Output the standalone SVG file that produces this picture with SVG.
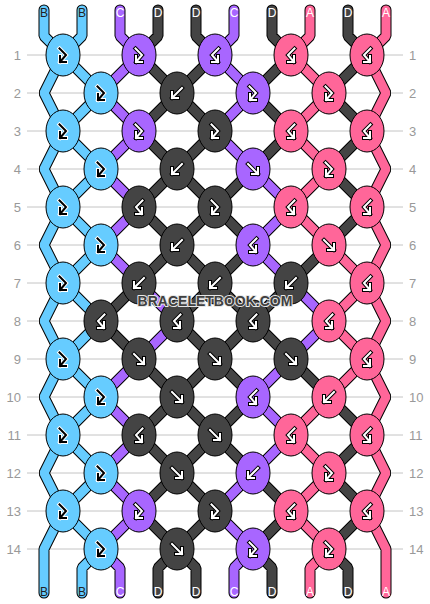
<svg xmlns="http://www.w3.org/2000/svg" width="430" height="604" viewBox="0 0 430 604">
<style>
.grid line{stroke:#c4c4c4;stroke-width:1}
.num{font-family:"Liberation Sans",Arial,sans-serif;font-size:13px;fill:#999}
.numL{text-anchor:end}
.t{fill:none;stroke-linecap:round;stroke-linejoin:bevel}
.ol{stroke:#000;stroke-width:11}
.cB{stroke:#66ccff;stroke-width:9}
.cC{stroke:#a866ff;stroke-width:9}
.cD{stroke:#444444;stroke-width:9}
.cA{stroke:#ff6699;stroke-width:9}
.k ellipse{stroke:#000;stroke-width:1}
.kB{fill:#66ccff}
.kC{fill:#a866ff}
.kD{fill:#444444}
.kA{fill:#ff6699}
use.sw{color:#fff;stroke:#000}
use.sk{color:#000;stroke:#fff}
.lab{font-family:"Liberation Sans",Arial,sans-serif;font-size:12px;text-anchor:middle;fill:#fff}
.lab .dk{fill:#222}
.wm{font-family:"Liberation Sans",Arial,sans-serif;font-weight:bold;font-size:14px;text-anchor:middle;fill:#404040;stroke:#e6e6e6;stroke-width:2;paint-order:stroke;stroke-linejoin:round}
</style>
<defs>
<g id="fb" fill="none" stroke-linecap="square" stroke-linejoin="miter"><path d="M-3.5-6.5L3 0L-3 7M-3 1V7H3" stroke="currentColor" stroke-width="4"/><path d="M-3.5-6.5L3 0L-3 7M-3 1V7H3" stroke-width="2"/></g>
<g id="bf" fill="none" stroke-linecap="square" stroke-linejoin="miter"><path d="M3.5-6.5L-3 0L3 7M3 1V7H-3" stroke="currentColor" stroke-width="4"/><path d="M3.5-6.5L-3 0L3 7M3 1V7H-3" stroke-width="2"/></g>
<g id="f" fill="none" stroke-linecap="square" stroke-linejoin="miter"><path d="M-5-5L5 5M5-1V5H-1" stroke="currentColor" stroke-width="4"/><path d="M-5-5L5 5M5-1V5H-1" stroke-width="2"/></g>
<g id="b" fill="none" stroke-linecap="square" stroke-linejoin="miter"><path d="M5-5L-5 5M-5-1V5H1" stroke="currentColor" stroke-width="4"/><path d="M5-5L-5 5M-5-1V5H1" stroke-width="2"/></g>
<path id="tB" d="M63 55l38 38M101 93l-38 38M63 131l38 38M101 169l-38 38M63 207l38 38M101 245l-38 38M63 283l38 38M101 321l-38 38M63 359l38 38M101 397l-38 38M63 435l38 38M101 473l-38 38M63 511l38 38M82 10V36L63 55M101 549L82 568V593M44 10V36L63 55L44 93L63 131L44 169L63 207L44 245L63 283L44 321L63 359L44 397L63 435L44 473L63 511L44 549V593"/>
<path id="tC" d="M139 55l-38 38M215 55l38 38M101 93l38 38M253 93l-38 38M139 131l-38 38M215 131l38 38M101 169l38 38M253 169l38 38M139 207l-38 38M291 207l-38 38M101 245l38 38M253 245l38 38M139 283l38 38M291 283l38 38M177 321l-38 38M329 321l-38 38M139 359l-38 38M291 359l-38 38M101 397l38 38M253 397l38 38M139 435l-38 38M291 435l-38 38M101 473l38 38M253 473l-38 38M139 511l-38 38M215 511l38 38M120 10V36L139 55M234 10V36L215 55M101 549L120 568V593M253 549L234 568V593"/>
<path id="tA" d="M291 55l38 38M329 93l-38 38M291 131l38 38M329 169l-38 38M291 207l38 38M329 245l38 38M367 283l-38 38M329 321l38 38M367 359l-38 38M329 397l-38 38M291 435l38 38M329 473l-38 38M291 511l38 38M310 10V36L291 55M329 549L310 568V593M386 10V36L367 55L386 93L367 131L386 169L367 207L386 245L367 283L386 321L367 359L386 397L367 435L386 473L367 511L386 549V593"/>
<path id="tD" d="M139 55l38 38M215 55l-38 38M291 55l-38 38M367 55l-38 38M177 93l-38 38M177 93l38 38M253 93l38 38M329 93l38 38M139 131l38 38M215 131l-38 38M291 131l-38 38M367 131l-38 38M177 169l-38 38M177 169l38 38M253 169l-38 38M329 169l38 38M139 207l38 38M215 207l-38 38M215 207l38 38M367 207l-38 38M177 245l-38 38M177 245l38 38M253 245l-38 38M329 245l-38 38M139 283l-38 38M215 283l-38 38M215 283l38 38M291 283l-38 38M101 321l38 38M177 321l38 38M253 321l-38 38M253 321l38 38M139 359l38 38M215 359l-38 38M215 359l38 38M291 359l38 38M177 397l-38 38M177 397l38 38M253 397l-38 38M329 397l38 38M139 435l38 38M215 435l-38 38M215 435l38 38M367 435l-38 38M177 473l-38 38M177 473l38 38M253 473l38 38M329 473l38 38M139 511l38 38M215 511l-38 38M291 511l-38 38M367 511l-38 38M158 10V36L139 55M196 10V36L215 55M272 10V36L291 55M348 10V36L367 55M177 549L158 568V593M177 549L196 568V593M253 549L272 568V593M329 549L348 568V593"/>
</defs>
<rect width="430" height="604" fill="#fff"/>
<g class="grid">
<line x1="27" y1="55" x2="403" y2="55"/><line x1="27" y1="93" x2="403" y2="93"/><line x1="27" y1="131" x2="403" y2="131"/><line x1="27" y1="169" x2="403" y2="169"/><line x1="27" y1="207" x2="403" y2="207"/><line x1="27" y1="245" x2="403" y2="245"/><line x1="27" y1="283" x2="403" y2="283"/><line x1="27" y1="321" x2="403" y2="321"/><line x1="27" y1="359" x2="403" y2="359"/><line x1="27" y1="397" x2="403" y2="397"/><line x1="27" y1="435" x2="403" y2="435"/><line x1="27" y1="473" x2="403" y2="473"/><line x1="27" y1="511" x2="403" y2="511"/><line x1="27" y1="549" x2="403" y2="549"/>
</g>
<g class="num">
<text class="numL" x="21" y="59.5">1</text><text class="numL" x="21" y="97.5">2</text><text class="numL" x="21" y="135.5">3</text><text class="numL" x="21" y="173.5">4</text><text class="numL" x="21" y="211.5">5</text><text class="numL" x="21" y="249.5">6</text><text class="numL" x="21" y="287.5">7</text><text class="numL" x="21" y="325.5">8</text><text class="numL" x="21" y="363.5">9</text><text class="numL" x="21" y="401.5">10</text><text class="numL" x="21" y="439.5">11</text><text class="numL" x="21" y="477.5">12</text><text class="numL" x="21" y="515.5">13</text><text class="numL" x="21" y="553.5">14</text>
<text x="409" y="59.5">1</text><text x="409" y="97.5">2</text><text x="409" y="135.5">3</text><text x="409" y="173.5">4</text><text x="409" y="211.5">5</text><text x="409" y="249.5">6</text><text x="409" y="287.5">7</text><text x="409" y="325.5">8</text><text x="409" y="363.5">9</text><text x="409" y="401.5">10</text><text x="409" y="439.5">11</text><text x="409" y="477.5">12</text><text x="409" y="515.5">13</text><text x="409" y="553.5">14</text>
</g>
<g id="connectors" class="t">
<use href="#tB" class="ol"/><use href="#tC" class="ol"/><use href="#tA" class="ol"/><use href="#tD" class="ol"/>
<use href="#tB" class="cB"/><use href="#tC" class="cC"/><use href="#tA" class="cA"/><use href="#tD" class="cD"/>
</g>
<g id="knots">
<g id="r1k1" class="k"><ellipse class="kB" cx="63" cy="55" rx="17" ry="21"/><use href="#fb" class="sw" x="63" y="55"/></g>
<g id="r1k2" class="k"><ellipse class="kC" cx="139" cy="55" rx="17" ry="21"/><use href="#fb" class="sk" x="139" y="55"/></g>
<g id="r1k3" class="k"><ellipse class="kC" cx="215" cy="55" rx="17" ry="21"/><use href="#bf" class="sk" x="215" y="55"/></g>
<g id="r1k4" class="k"><ellipse class="kA" cx="291" cy="55" rx="17" ry="21"/><use href="#bf" class="sk" x="291" y="55"/></g>
<g id="r1k5" class="k"><ellipse class="kA" cx="367" cy="55" rx="17" ry="21"/><use href="#bf" class="sk" x="367" y="55"/></g>
<g id="r2k1" class="k"><ellipse class="kB" cx="101" cy="93" rx="17" ry="21"/><use href="#fb" class="sw" x="101" y="93"/></g>
<g id="r2k2" class="k"><ellipse class="kD" cx="177" cy="93" rx="17" ry="21"/><use href="#b" class="sk" x="177" y="93"/></g>
<g id="r2k3" class="k"><ellipse class="kC" cx="253" cy="93" rx="17" ry="21"/><use href="#fb" class="sk" x="253" y="93"/></g>
<g id="r2k4" class="k"><ellipse class="kA" cx="329" cy="93" rx="17" ry="21"/><use href="#fb" class="sk" x="329" y="93"/></g>
<g id="r3k1" class="k"><ellipse class="kB" cx="63" cy="131" rx="17" ry="21"/><use href="#fb" class="sw" x="63" y="131"/></g>
<g id="r3k2" class="k"><ellipse class="kC" cx="139" cy="131" rx="17" ry="21"/><use href="#fb" class="sk" x="139" y="131"/></g>
<g id="r3k3" class="k"><ellipse class="kD" cx="215" cy="131" rx="17" ry="21"/><use href="#fb" class="sk" x="215" y="131"/></g>
<g id="r3k4" class="k"><ellipse class="kA" cx="291" cy="131" rx="17" ry="21"/><use href="#bf" class="sk" x="291" y="131"/></g>
<g id="r3k5" class="k"><ellipse class="kA" cx="367" cy="131" rx="17" ry="21"/><use href="#bf" class="sk" x="367" y="131"/></g>
<g id="r4k1" class="k"><ellipse class="kB" cx="101" cy="169" rx="17" ry="21"/><use href="#fb" class="sw" x="101" y="169"/></g>
<g id="r4k2" class="k"><ellipse class="kD" cx="177" cy="169" rx="17" ry="21"/><use href="#b" class="sk" x="177" y="169"/></g>
<g id="r4k3" class="k"><ellipse class="kC" cx="253" cy="169" rx="17" ry="21"/><use href="#f" class="sk" x="253" y="169"/></g>
<g id="r4k4" class="k"><ellipse class="kA" cx="329" cy="169" rx="17" ry="21"/><use href="#fb" class="sk" x="329" y="169"/></g>
<g id="r5k1" class="k"><ellipse class="kB" cx="63" cy="207" rx="17" ry="21"/><use href="#fb" class="sw" x="63" y="207"/></g>
<g id="r5k2" class="k"><ellipse class="kD" cx="139" cy="207" rx="17" ry="21"/><use href="#bf" class="sk" x="139" y="207"/></g>
<g id="r5k3" class="k"><ellipse class="kD" cx="215" cy="207" rx="17" ry="21"/><use href="#fb" class="sk" x="215" y="207"/></g>
<g id="r5k4" class="k"><ellipse class="kA" cx="291" cy="207" rx="17" ry="21"/><use href="#bf" class="sk" x="291" y="207"/></g>
<g id="r5k5" class="k"><ellipse class="kA" cx="367" cy="207" rx="17" ry="21"/><use href="#bf" class="sk" x="367" y="207"/></g>
<g id="r6k1" class="k"><ellipse class="kB" cx="101" cy="245" rx="17" ry="21"/><use href="#fb" class="sw" x="101" y="245"/></g>
<g id="r6k2" class="k"><ellipse class="kD" cx="177" cy="245" rx="17" ry="21"/><use href="#b" class="sk" x="177" y="245"/></g>
<g id="r6k3" class="k"><ellipse class="kC" cx="253" cy="245" rx="17" ry="21"/><use href="#bf" class="sk" x="253" y="245"/></g>
<g id="r6k4" class="k"><ellipse class="kA" cx="329" cy="245" rx="17" ry="21"/><use href="#f" class="sk" x="329" y="245"/></g>
<g id="r7k1" class="k"><ellipse class="kB" cx="63" cy="283" rx="17" ry="21"/><use href="#fb" class="sw" x="63" y="283"/></g>
<g id="r7k2" class="k"><ellipse class="kD" cx="139" cy="283" rx="17" ry="21"/><use href="#b" class="sk" x="139" y="283"/></g>
<g id="r7k3" class="k"><ellipse class="kD" cx="215" cy="283" rx="17" ry="21"/><use href="#b" class="sk" x="215" y="283"/></g>
<g id="r7k4" class="k"><ellipse class="kD" cx="291" cy="283" rx="17" ry="21"/><use href="#b" class="sk" x="291" y="283"/></g>
<g id="r7k5" class="k"><ellipse class="kA" cx="367" cy="283" rx="17" ry="21"/><use href="#bf" class="sk" x="367" y="283"/></g>
<g id="r8k1" class="k"><ellipse class="kD" cx="101" cy="321" rx="17" ry="21"/><use href="#bf" class="sk" x="101" y="321"/></g>
<g id="r8k2" class="k"><ellipse class="kD" cx="177" cy="321" rx="17" ry="21"/><use href="#bf" class="sk" x="177" y="321"/></g>
<g id="r8k3" class="k"><ellipse class="kD" cx="253" cy="321" rx="17" ry="21"/><use href="#bf" class="sk" x="253" y="321"/></g>
<g id="r8k4" class="k"><ellipse class="kA" cx="329" cy="321" rx="17" ry="21"/><use href="#bf" class="sk" x="329" y="321"/></g>
<g id="r9k1" class="k"><ellipse class="kB" cx="63" cy="359" rx="17" ry="21"/><use href="#fb" class="sw" x="63" y="359"/></g>
<g id="r9k2" class="k"><ellipse class="kD" cx="139" cy="359" rx="17" ry="21"/><use href="#f" class="sk" x="139" y="359"/></g>
<g id="r9k3" class="k"><ellipse class="kD" cx="215" cy="359" rx="17" ry="21"/><use href="#f" class="sk" x="215" y="359"/></g>
<g id="r9k4" class="k"><ellipse class="kD" cx="291" cy="359" rx="17" ry="21"/><use href="#f" class="sk" x="291" y="359"/></g>
<g id="r9k5" class="k"><ellipse class="kA" cx="367" cy="359" rx="17" ry="21"/><use href="#bf" class="sk" x="367" y="359"/></g>
<g id="r10k1" class="k"><ellipse class="kB" cx="101" cy="397" rx="17" ry="21"/><use href="#fb" class="sw" x="101" y="397"/></g>
<g id="r10k2" class="k"><ellipse class="kD" cx="177" cy="397" rx="17" ry="21"/><use href="#f" class="sk" x="177" y="397"/></g>
<g id="r10k3" class="k"><ellipse class="kC" cx="253" cy="397" rx="17" ry="21"/><use href="#bf" class="sk" x="253" y="397"/></g>
<g id="r10k4" class="k"><ellipse class="kA" cx="329" cy="397" rx="17" ry="21"/><use href="#b" class="sk" x="329" y="397"/></g>
<g id="r11k1" class="k"><ellipse class="kB" cx="63" cy="435" rx="17" ry="21"/><use href="#fb" class="sw" x="63" y="435"/></g>
<g id="r11k2" class="k"><ellipse class="kD" cx="139" cy="435" rx="17" ry="21"/><use href="#bf" class="sk" x="139" y="435"/></g>
<g id="r11k3" class="k"><ellipse class="kD" cx="215" cy="435" rx="17" ry="21"/><use href="#f" class="sk" x="215" y="435"/></g>
<g id="r11k4" class="k"><ellipse class="kA" cx="291" cy="435" rx="17" ry="21"/><use href="#bf" class="sk" x="291" y="435"/></g>
<g id="r11k5" class="k"><ellipse class="kA" cx="367" cy="435" rx="17" ry="21"/><use href="#bf" class="sk" x="367" y="435"/></g>
<g id="r12k1" class="k"><ellipse class="kB" cx="101" cy="473" rx="17" ry="21"/><use href="#fb" class="sw" x="101" y="473"/></g>
<g id="r12k2" class="k"><ellipse class="kD" cx="177" cy="473" rx="17" ry="21"/><use href="#f" class="sk" x="177" y="473"/></g>
<g id="r12k3" class="k"><ellipse class="kC" cx="253" cy="473" rx="17" ry="21"/><use href="#b" class="sk" x="253" y="473"/></g>
<g id="r12k4" class="k"><ellipse class="kA" cx="329" cy="473" rx="17" ry="21"/><use href="#fb" class="sk" x="329" y="473"/></g>
<g id="r13k1" class="k"><ellipse class="kB" cx="63" cy="511" rx="17" ry="21"/><use href="#fb" class="sw" x="63" y="511"/></g>
<g id="r13k2" class="k"><ellipse class="kC" cx="139" cy="511" rx="17" ry="21"/><use href="#fb" class="sk" x="139" y="511"/></g>
<g id="r13k3" class="k"><ellipse class="kD" cx="215" cy="511" rx="17" ry="21"/><use href="#fb" class="sk" x="215" y="511"/></g>
<g id="r13k4" class="k"><ellipse class="kA" cx="291" cy="511" rx="17" ry="21"/><use href="#bf" class="sk" x="291" y="511"/></g>
<g id="r13k5" class="k"><ellipse class="kA" cx="367" cy="511" rx="17" ry="21"/><use href="#bf" class="sk" x="367" y="511"/></g>
<g id="r14k1" class="k"><ellipse class="kB" cx="101" cy="549" rx="17" ry="21"/><use href="#fb" class="sw" x="101" y="549"/></g>
<g id="r14k2" class="k"><ellipse class="kD" cx="177" cy="549" rx="17" ry="21"/><use href="#f" class="sk" x="177" y="549"/></g>
<g id="r14k3" class="k"><ellipse class="kC" cx="253" cy="549" rx="17" ry="21"/><use href="#fb" class="sk" x="253" y="549"/></g>
<g id="r14k4" class="k"><ellipse class="kA" cx="329" cy="549" rx="17" ry="21"/><use href="#fb" class="sk" x="329" y="549"/></g>
</g>
<g class="lab">
<text class="dk" x="44" y="17">B</text><text class="dk" x="82" y="17">B</text><text x="120" y="17">C</text><text x="158" y="17">D</text><text x="196" y="17">D</text><text x="234" y="17">C</text><text x="272" y="17">D</text><text x="310" y="17">A</text><text x="348" y="17">D</text><text x="386" y="17">A</text>
<text class="dk" x="44" y="596">B</text><text class="dk" x="82" y="596">B</text><text x="120" y="596">C</text><text x="158" y="596">D</text><text x="196" y="596">D</text><text x="234" y="596">C</text><text x="272" y="596">D</text><text x="310" y="596">A</text><text x="348" y="596">D</text><text x="386" y="596">A</text>
</g>
<text class="wm" x="215" y="306">BRACELETBOOK.COM</text>
</svg>
